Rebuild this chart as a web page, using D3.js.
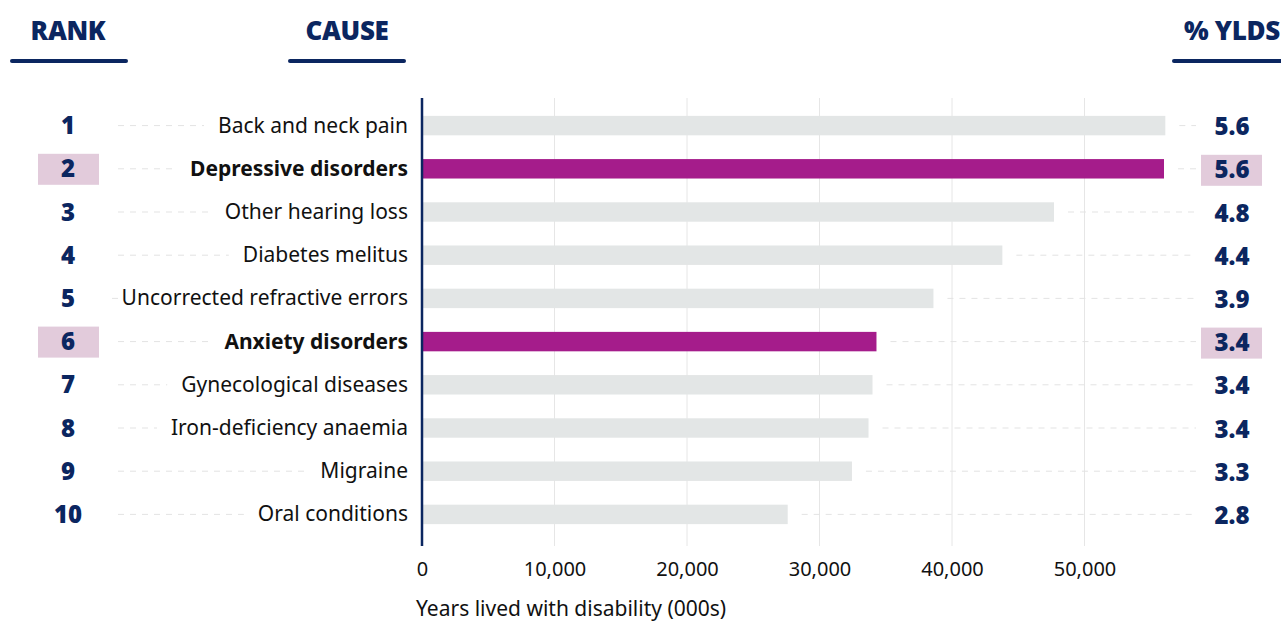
<!DOCTYPE html>
<html lang="en">
<head>
<meta charset="utf-8">
<title>YLDs</title>
<script src="https://d3js.org/d3.v7.min.js"></script>
<style>
  body { margin: 0; background: #fff; }
  svg { display: block; font-family: "Noto Sans", "Open Sans", sans-serif; }
  .grid line { stroke: #e6e6e6; stroke-width: 1; }
  .guide { stroke: #e3e3e3; stroke-dasharray: 6 6; stroke-width: 1; }
  .rank, .pct, .head { fill: #0b2660; font-weight: 900; }
  .cause { fill: #111; font-size: 21px; }
  .tick text { fill: #111; font-size: 20px; font-family: "Noto Sans", sans-serif; }
</style>
</head>
<body>
<script>
var ranks = [1, 2, 3, 4, 5, 6, 7, 8, 9, 10];
var causes = ["Back and neck pain", "Depressive disorders", "Other hearing loss", "Diabetes melitus",
  "Uncorrected refractive errors", "Anxiety disorders", "Gynecological diseases",
  "Iron-deficiency anaemia", "Migraine", "Oral conditions"];
var ylds = [56100, 56000, 47700, 43800, 38600, 34300, 34000, 33700, 32450, 27600];
var pcts = ["5.6", "5.6", "4.8", "4.4", "3.9", "3.4", "3.4", "3.4", "3.3", "2.8"];
var highlighted = ["Depressive disorders", "Anxiety disorders"];
var xTicks = [0, 10000, 20000, 30000, 40000, 50000];

var width = 1281, height = 621;
var navy = "#0b2660", magenta = "#a51c8b", grey = "#e3e6e6", pink = "#e2cbdb";

var svg = d3.select("body").append("svg")
    .attr("width", width)
    .attr("height", height);

var x = d3.scaleLinear().domain([0, 50000]).range([422, 1084.5]);
var y = d3.scaleBand().domain(causes).range([104, 536]).paddingInner(0.55).paddingOuter(0.275);

// headers
var heads = [
  {t: "RANK", x: 68, anchor: "middle", x0: 12, x1: 126},
  {t: "CAUSE", x: 347, anchor: "middle", x0: 290, x1: 404},
  {t: "% YLDS", x: 1280, anchor: "end", x0: 1174, x1: 1290}
];
svg.selectAll(".head").data(heads).enter().append("text")
    .attr("class", "head")
    .attr("x", function(d) { return d.x; })
    .attr("y", 40)
    .attr("text-anchor", function(d) { return d.anchor; })
    .attr("font-size", 26)
    .attr("letter-spacing", -0.3)
    .text(function(d) { return d.t; });
svg.selectAll(".headline").data(heads).enter().append("line")
    .attr("x1", function(d) { return d.x0; })
    .attr("x2", function(d) { return d.x1; })
    .attr("y1", 61).attr("y2", 61)
    .attr("stroke", navy).attr("stroke-width", 4).attr("stroke-linecap", "round");

// grid
svg.append("g").attr("class", "grid")
  .selectAll("line").data(xTicks.slice(1)).enter().append("line")
    .attr("x1", x).attr("x2", x)
    .attr("y1", 98).attr("y2", 546);

var rows = svg.append("g").selectAll("g").data(causes).enter().append("g")
    .attr("transform", function(d) { return "translate(0," + (y(d) + y.bandwidth() / 2) + ")"; });

// right dashed guides
rows.append("line").attr("class", "guide")
    .attr("x1", function(d, i) { return x(ylds[i]) + 14; })
    .attr("x2", 1196)
    .attr("y1", 0).attr("y2", 0);

rows.append("rect")
    .attr("x", x(0))
    .attr("y", -y.bandwidth() / 2)
    .attr("width", function(d, i) { return x(ylds[i]) - x(0); })
    .attr("height", y.bandwidth())
    .attr("fill", function(d) { return highlighted.indexOf(d) >= 0 ? magenta : grey; });

// highlight boxes
rows.filter(function(d) { return highlighted.indexOf(d) >= 0; }).append("rect")
    .attr("x", 38).attr("y", -15).attr("width", 61).attr("height", 31).attr("fill", pink);
rows.filter(function(d) { return highlighted.indexOf(d) >= 0; }).append("rect")
    .attr("x", 1201).attr("y", -14).attr("width", 61).attr("height", 31).attr("fill", pink);

rows.append("text").attr("class", "rank")
    .attr("x", 68).attr("y", 8.5)
    .attr("text-anchor", "middle")
    .attr("font-size", 24)
    .text(function(d, i) { return ranks[i]; });

var labels = rows.append("text").attr("class", "cause")
    .attr("x", 408).attr("y", 7)
    .attr("text-anchor", "end")
    .attr("font-weight", function(d) { return highlighted.indexOf(d) >= 0 ? 700 : 400; })
    .text(function(d) { return d; });

// left dashed guides, ending before each label
rows.append("line").attr("class", "guide")
    .attr("x1", 118)
    .attr("x2", function() {
      var w = d3.select(this.parentNode).select(".cause").node().getComputedTextLength();
      return 408 - w - 14;
    })
    .attr("y1", 0).attr("y2", 0);

rows.append("text").attr("class", "pct")
    .attr("x", 1232).attr("y", 9.5)
    .attr("text-anchor", "middle")
    .attr("font-size", 24)
    .text(function(d, i) { return pcts[i]; });

// x axis
var xAxis = svg.append("g")
    .attr("transform", "translate(0,546)")
    .call(d3.axisBottom(x).tickValues(xTicks).tickSize(0).tickPadding(16).tickFormat(d3.format(",")));
xAxis.select(".domain").remove();

svg.append("line")
    .attr("x1", x(0)).attr("x2", x(0))
    .attr("y1", 98).attr("y2", 546)
    .attr("stroke", navy).attr("stroke-width", 2.5);

svg.append("text")
    .attr("x", 416).attr("y", 616)
    .attr("font-size", 21)
    .attr("fill", "#111")
    .text("Years lived with disability (000s)");
</script>
</body>
</html>
